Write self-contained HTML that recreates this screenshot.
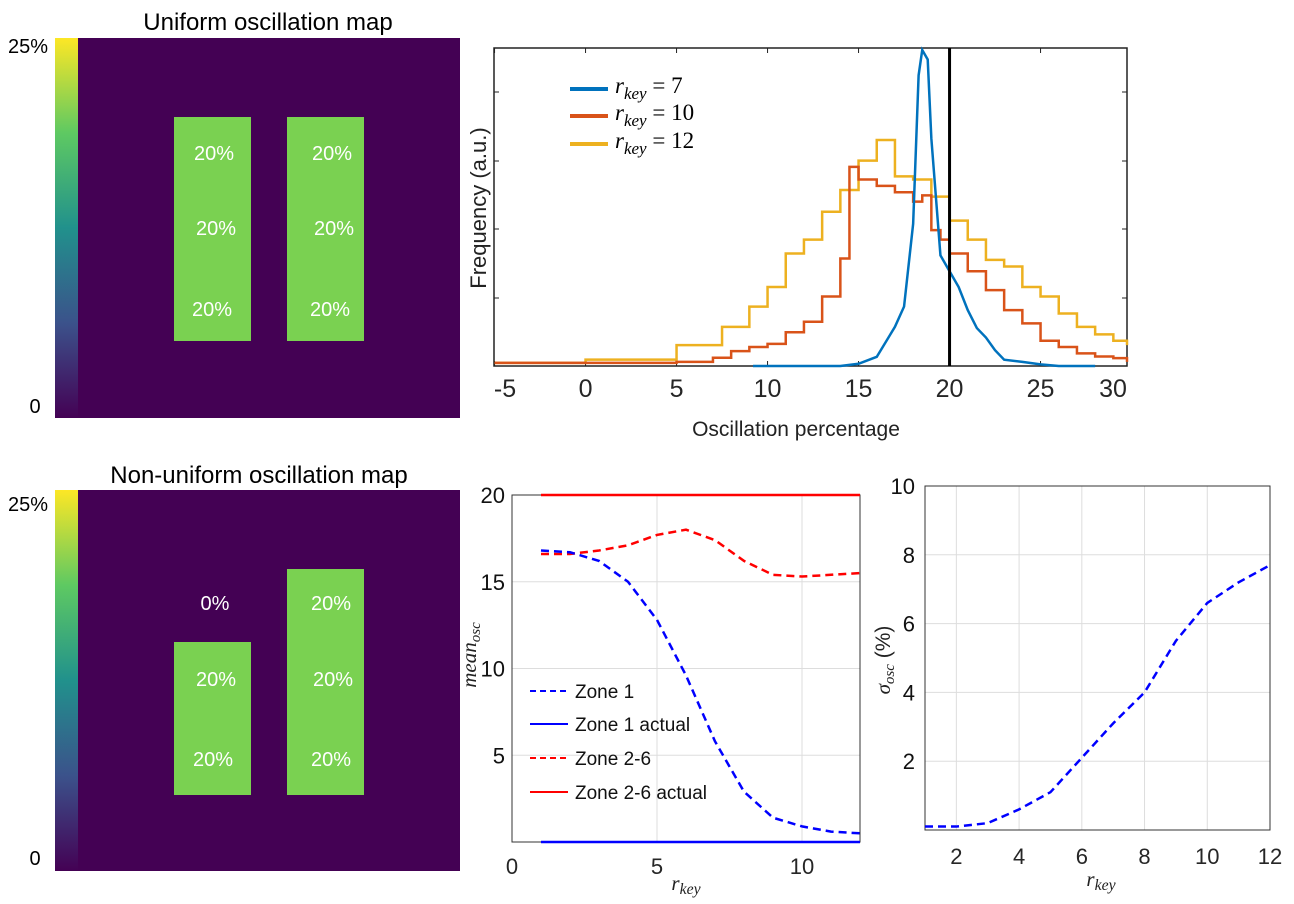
<!DOCTYPE html>
<html><head><meta charset="utf-8"><style>
body{margin:0;background:#fff}
svg{display:block;font-family:"Liberation Sans",sans-serif}
.it{font-family:"Liberation Serif",serif;font-style:italic}
</style></head><body>
<svg id="s" width="1294" height="904" viewBox="0 0 1294 904">
<defs><linearGradient id="vir" x1="0" y1="1" x2="0" y2="0">
<stop offset="0" stop-color="#440154"/><stop offset="0.25" stop-color="#3b528b"/><stop offset="0.5" stop-color="#21918c"/><stop offset="0.75" stop-color="#5ec962"/><stop offset="1" stop-color="#fde725"/></linearGradient></defs>

<g>
<text x="268" y="30" font-size="24" text-anchor="middle">Uniform oscillation map</text>
<rect x="55" y="38" width="23" height="380" fill="url(#vir)"/>
<text x="28" y="53" font-size="20" text-anchor="middle">25%</text>
<text x="35" y="413" font-size="20" text-anchor="middle">0</text>
<rect x="78" y="38" width="382" height="380" fill="#440154"/>
<rect x="174" y="117" width="77" height="224" fill="#7ad151"/>
<rect x="287" y="117" width="77" height="224" fill="#7ad151"/>
<g fill="#fff" font-size="20" text-anchor="middle">
<text x="214" y="160">20%</text><text x="332" y="160">20%</text>
<text x="216" y="235">20%</text><text x="334" y="235">20%</text>
<text x="212" y="316">20%</text><text x="330" y="316">20%</text></g>
</g>

<g>
<text x="259" y="483" font-size="24" text-anchor="middle">Non-uniform oscillation map</text>
<rect x="55" y="490" width="23" height="381" fill="url(#vir)"/>
<text x="28" y="511" font-size="20" text-anchor="middle">25%</text>
<text x="35" y="865" font-size="20" text-anchor="middle">0</text>
<rect x="78" y="490" width="382" height="381" fill="#440154"/>
<rect x="174" y="642" width="77" height="153" fill="#7ad151"/>
<rect x="287" y="569" width="77" height="226" fill="#7ad151"/>
<g fill="#fff" font-size="20" text-anchor="middle">
<text x="215" y="610">0%</text><text x="331" y="610">20%</text>
<text x="216" y="686">20%</text><text x="333" y="686">20%</text>
<text x="213" y="766">20%</text><text x="331" y="766">20%</text></g>
</g>

<g id="hist"></g>
<g id="mean"></g>
<g id="sig"></g>
</svg>
<script>
// Histogram data
const histX12 = [-5,0,5,7.5,9,10,11,12,13,14,15,16,17,18,19,20,21,22,23,24,25,26,27,28,29,30];
const histY12 = [1,2,6.6,12.4,18.8,25,35.6,40,48.8,55.7,65,71.5,60,59,53.6,46,40,33.6,31.5,25,22,16.6,12.4,10,8,6.6];
const histX10 = [-5,0,5,7,8,9,10,11,12,13,14,14.5,15,16,17,18,18.5,19,19.5,20,21,22,23,24,25,26,27,28,29,30];
const histY10 = [1,1,1.3,2.6,4.7,6,7,10.7,14,22,34,63,59,57,55,52,54,43,40,35.6,30,24,17.7,13.5,8,6,4,3,2.5,1.3];
const histX7 = [9.2,14,15,16,17,17.5,18,18.3,18.5,18.8,19,19.5,20,20.5,21,21.5,22,22.5,23,24,25,26,28];
const histY7 = [0,0,0.7,2.9,12.4,18.8,45,92,100,97,72,35,30,25,17.7,12,9,5,2,1.3,0.5,0,0];
const histTicks = [-5,0,5,10,15,20,25,30];
const threshold = [20];
// Mean chart data
const rKey = [1,2,3,4,5,6,7,8,9,10,11,12];
const zone1 = [16.8,16.7,16.2,15,12.8,9.6,5.8,2.9,1.4,0.9,0.6,0.5];
const zone26 = [16.6,16.6,16.8,17.1,17.7,18.0,17.4,16.2,15.4,15.3,15.4,15.5];
const zone1Actual = [0,0,0,0,0,0,0,0,0,0,0,0];
const zone26Actual = [20,20,20,20,20,20,20,20,20,20,20,20];
const meanXTicks = [0,5,10];
const meanYTicks = [5,10,15,20];
// Sigma chart data
const sigma = [0.1,0.1,0.2,0.6,1.1,2.1,3.1,4.0,5.5,6.6,7.2,7.7];
const sigXTicks = [2,4,6,8,10,12];
const sigYTicks = [2,4,6,8,10];

const NS='http://www.w3.org/2000/svg';
function mk(parent,tag,attrs,text){const e=document.createElementNS(NS,tag);for(const k in attrs)e.setAttribute(k,attrs[k]);if(text!==undefined)e.textContent=text;parent.appendChild(e);return e;}

// ---- histogram
(function(){
const g=document.getElementById('hist');
const L=494,R=1127,T=48,B=366;
const X0=-5.03,X1=29.75;
const xs=v=>L+(v-X0)/(X1-X0)*(R-L);
const ys=v=>B-v/100*(B-T-2);
const box=mk(g,'rect',{x:L,y:T,width:R-L,height:B-T,fill:'none',stroke:'#222','stroke-width':1.5});


histTicks.forEach((t,i)=>{
  if(xs(t)<=R+1){
  mk(g,'line',{x1:xs(t),x2:xs(t),y1:T,y2:T+5,stroke:'#222'});
  mk(g,'line',{x1:xs(t),x2:xs(t),y1:B,y2:B-5,stroke:'#222'});}
  let lx=xs(t);
  if(i===0) lx=505;
  if(i===histTicks.length-1) lx=1113;
  const tx=mk(g,'text',{x:lx,y:397,'font-size':25,'text-anchor':'middle',fill:'#262626'},String(t));
  
  
});
[92,161,229,298].forEach(y=>{mk(g,'line',{x1:L,x2:L+5,y1:y,y2:y,stroke:'#222'});mk(g,'line',{x1:R,x2:R-5,y1:y,y2:y,stroke:'#222'});});
function step(X,Y){let d='';for(let i=0;i<X.length;i++){const x=Math.max(L,xs(X[i])),y=ys(Y[i]);if(i===0)d+='M'+x+','+y;else d+=' V'+y;const nx=i<X.length-1?xs(X[i+1]):R;d+=' H'+Math.min(R,nx);}return d;}
const p12=mk(g,'path',{d:step(histX12,histY12),fill:'none',stroke:'#EDB120','stroke-width':2.5});


const p10=mk(g,'path',{d:step(histX10,histY10),fill:'none',stroke:'#D95319','stroke-width':2.5});


const p7=mk(g,'polyline',{points:histX7.map((x,i)=>xs(x)+','+ys(histY7[i])).join(' '),fill:'none',stroke:'#0072BD','stroke-width':2.5});


const th=mk(g,'line',{x1:xs(threshold[0]),x2:xs(threshold[0]),y1:T,y2:B,stroke:'#000','stroke-width':3});


[['#0072BD','7',89],['#D95319','10',116],['#EDB120','12',144]].forEach(([c,v,y])=>{
  const lg=mk(g,'g',{});
  
  
  mk(lg,'line',{x1:570,x2:608,y1:y,y2:y,stroke:c,'stroke-width':4});
  const t=mk(lg,'text',{x:615,y:y+4,'font-size':23,class:'it'});
  mk(t,'tspan',{},'r');mk(t,'tspan',{'font-size':17,dy:6},'key');mk(t,'tspan',{dy:-6,'font-style':'normal'},' = '+v);
});
const xl=mk(g,'text',{x:796,y:436,'font-size':21,'text-anchor':'middle',fill:'#222'},'Oscillation percentage');


const yl=mk(g,'text',{x:0,y:0,'font-size':22,'text-anchor':'middle',fill:'#222',transform:'translate(486,208) rotate(-90)'},'Frequency (a.u.)');


})();

function rk(g,x,y,fs){const t=mk(g,'text',{x:x,y:y,'font-size':fs,class:'it','text-anchor':'middle',fill:'#222'});mk(t,'tspan',{},'r');mk(t,'tspan',{'font-size':fs*0.75,dy:4},'key');return t;}

// ---- mean chart
(function(){
const g=document.getElementById('mean');
const L=512,R=860,T=495,B=842;
const xs=v=>L+v/12*(R-L);
const ys=v=>B-v/20*(B-T);
meanXTicks.forEach(t=>{ if(t>0) mk(g,'line',{x1:xs(t),x2:xs(t),y1:T,y2:B,stroke:'#ddd'});
  const tx=mk(g,'text',{x:xs(t),y:874,'font-size':22,'text-anchor':'middle',fill:'#262626'},String(t));
  
  });
meanYTicks.forEach(t=>{ if(t<20) mk(g,'line',{x1:L,x2:R,y1:ys(t),y2:ys(t),stroke:'#ddd'});
  const tx=mk(g,'text',{x:L-7,y:ys(t)+8,'font-size':22,'text-anchor':'end',fill:'#111'},String(t));
  
  });
const box=mk(g,'rect',{x:L,y:T,width:R-L,height:B-T,fill:'none',stroke:'#333','stroke-width':1});


const pts=a=>rKey.map((x,i)=>xs(x)+','+ys(a[i])).join(' ');
const a1=mk(g,'polyline',{points:pts(zone26Actual),fill:'none',stroke:'#f00','stroke-width':2.5});


const a2=mk(g,'polyline',{points:pts(zone1Actual),fill:'none',stroke:'#00f','stroke-width':2.5});


const d2=mk(g,'polyline',{points:pts(zone26),fill:'none',stroke:'#f00','stroke-width':2.5,'stroke-dasharray':'8 5'});


const d1=mk(g,'polyline',{points:pts(zone1),fill:'none',stroke:'#00f','stroke-width':2.5,'stroke-dasharray':'8 5'});


[['#00f',1,'Zone 1',691],['#00f',0,'Zone 1 actual',724],['#f00',1,'Zone 2-6',758],['#f00',0,'Zone 2-6 actual',792]].forEach(([c,d,l,y])=>{
  const lg=mk(g,'g',{});
  
  
  const ln={x1:530,x2:568,y1:y,y2:y,stroke:c,'stroke-width':2};if(d)ln['stroke-dasharray']='6 4';
  mk(lg,'line',ln);
  mk(lg,'text',{x:575,y:y+7,'font-size':19,fill:'#111'},l);
});
const xl=rk(g,686,890,21);


const yl=mk(g,'text',{x:0,y:0,'font-size':21,class:'it','text-anchor':'middle',fill:'#222',transform:'translate(476,655) rotate(-90)'});
mk(yl,'tspan',{},'mean');mk(yl,'tspan',{'font-size':15,dy:4},'osc');


})();

// ---- sigma chart
(function(){
const g=document.getElementById('sig');
const L=925,R=1270,T=486,B=830;
const xs=v=>L+(v-1)/11*(R-L);
const ys=v=>B-v/10*(B-T);
sigXTicks.forEach(t=>{ if(t<12) mk(g,'line',{x1:xs(t),x2:xs(t),y1:T,y2:B,stroke:'#ddd'});
  const tx=mk(g,'text',{x:xs(t),y:864,'font-size':22,'text-anchor':'middle',fill:'#262626'},String(t));
  
  });
sigYTicks.forEach(t=>{ if(t<10) mk(g,'line',{x1:L,x2:R,y1:ys(t),y2:ys(t),stroke:'#ddd'});
  const tx=mk(g,'text',{x:L-10,y:ys(t)+8,'font-size':22,'text-anchor':'end',fill:'#111'},String(t));
  
  });
const box=mk(g,'rect',{x:L,y:T,width:R-L,height:B-T,fill:'none',stroke:'#333','stroke-width':1});


const ln=mk(g,'polyline',{points:rKey.map((x,i)=>xs(x)+','+ys(sigma[i])).join(' '),fill:'none',stroke:'#00f','stroke-width':2.5,'stroke-dasharray':'8 5'});


const xl=rk(g,1101,886,21);


const yl=mk(g,'text',{x:0,y:0,'font-size':21,'text-anchor':'middle',fill:'#222',transform:'translate(890,660) rotate(-90)'});
mk(yl,'tspan',{class:'it'},'σ');mk(yl,'tspan',{'font-size':15,dy:4,class:'it'},'osc');mk(yl,'tspan',{dy:-4},' (%)');


})();
</script>
</body></html>
